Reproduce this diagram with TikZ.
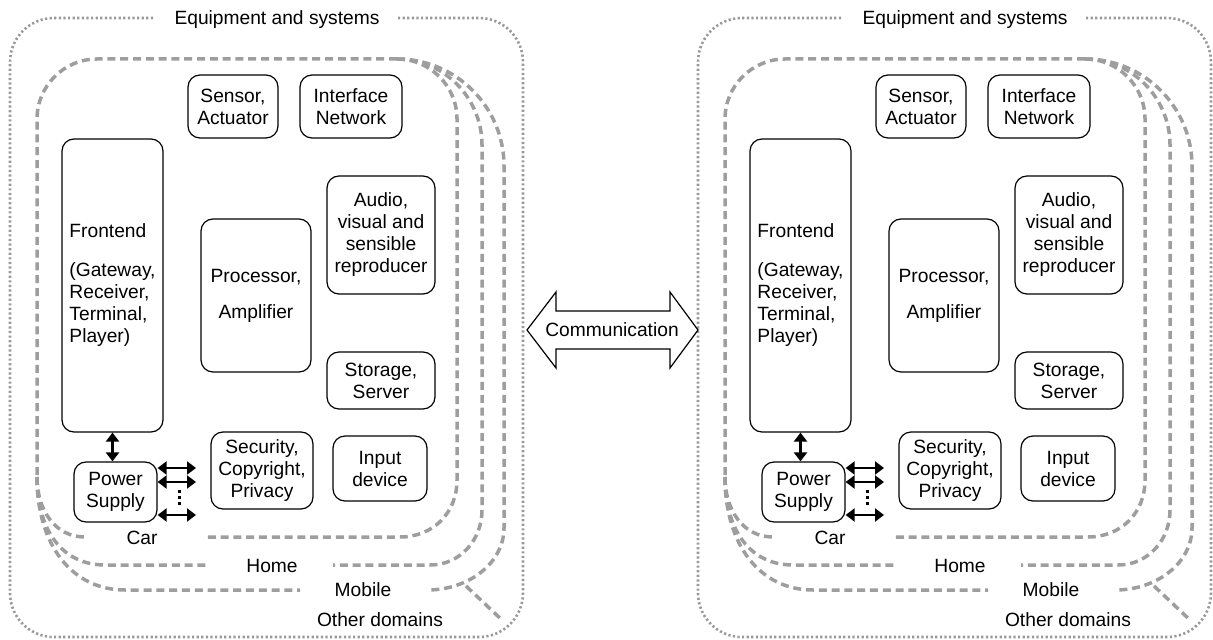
\documentclass[tikz,border=0pt]{standalone}
\usepackage{fontspec}
\setmainfont{Liberation Sans}
\usetikzlibrary{arrows.meta,calc}

\tikzset{
  lbl/.style={font=\fontsize{9.6}{11}\selectfont, inner sep=0pt},
  unit/.style={draw=black, line width=0.6pt, rounded corners=6pt, align=center,
    inner sep=0pt, font=\fontsize{9.6}{11}\selectfont},
  zoneline/.style={draw=black!38, line width=1.75pt, dash pattern=on 4pt off 2.4pt},
  envelope/.style={draw=black!40, line width=1.3pt, dash pattern=on 1.1pt off 1.2pt},
  link/.style={line width=1.3pt,
    {Triangle[length=4.5pt,width=6.5pt]}-{Triangle[length=4.5pt,width=6.5pt]}},
}

% One equipment panel; #1 prefixes the node names
\newcommand\equipmentpanel[1]{%
  % equipment and systems envelope
  \draw[envelope, rounded corners=22pt]
    (153,18) -- (10,18) -- (10,637) -- (523,637) -- (523,18) -- (398,18);
  \node[lbl] (#1eq) at (277,20) {Equipment and systems};
  % shared left and top edge of the car / home / mobile zones
  \draw[zoneline] (397,59) -- (97,59) .. controls (64,59) and (37,86) .. (37,119) -- (37,477);
  % car
  \draw[zoneline] (37,477) .. controls (37,510) and (55,537) .. (85,537);
  \draw[zoneline] (397,59) .. controls (430,59) and (457,86) .. (457,119) -- (457,480)
    .. controls (457,513) and (433,537) .. (400,537) -- (205,537);
  % home
  \draw[zoneline] (37,477) .. controls (37,530) and (62,565) .. (105,565) -- (210,565);
  \draw[zoneline] (397,59) .. controls (444,59) and (482,98) .. (482,145) -- (482,510)
    .. controls (482,540) and (460,565) .. (430,565) -- (333,565);
  % mobile
  \draw[zoneline] (37,477) .. controls (37,545) and (72,590) .. (125,590) -- (300,590);
  \draw[zoneline] (397,59) .. controls (456,59) and (504,107) .. (504,166) -- (504,528)
    .. controls (504,562) and (470,590) .. (427,590);
  % other domains corner
  \draw[zoneline] (466,586) -- (503,621);
  % zone labels
  \node[lbl] (#1car) at (142,538) {Car};
  \node[lbl] (#1home) at (272,566) {Home};
  \node[lbl] (#1mobile) at (363,590) {Mobile};
  \node[lbl] (#1other) at (380,620) {Other domains};
  % units
  \node[unit, minimum width=45pt, minimum height=31.5pt] (#1sensor) at (233,106.5) {Sensor,\\Actuator};
  \node[unit, minimum width=51pt, minimum height=31.5pt] (#1iface) at (351,106.5) {Interface\\Network};
  \node[unit, align=left, minimum width=50.5pt, minimum height=146.5pt] (#1front) at (112.5,285.5)
    {Frontend\\[8.5pt](Gateway,\\Receiver,\\Terminal,\\Player)};
  \node[unit, minimum width=55pt, minimum height=76.5pt] (#1proc) at (256,295.5) {Processor,\\[7pt]Amplifier};
  \node[unit, minimum width=54pt, minimum height=59pt] (#1audio) at (381,235)
    {Audio,\\visual and\\sensible\\reproducer};
  \node[unit, minimum width=54pt, minimum height=28.5pt] (#1storage) at (381,380.5) {Storage,\\Server};
  \node[unit, minimum width=51pt, minimum height=38.5pt] (#1security) at (262,470.5)
    {Security,\\Copyright,\\Privacy};
  \node[unit, minimum width=47pt, minimum height=32.5pt] (#1input) at (380,468.5) {Input\\device};
  \node[unit, minimum width=41.5pt, minimum height=30pt] (#1power) at (115.5,492) {Power\\Supply};
  % power links
  \draw[link] (#1front.south) -- (#1front.south |- #1power.north);
  \coordinate (#1a1) at (196,468);
  \coordinate (#1a2) at (196,482);
  \coordinate (#1a3) at (196,515);
  \draw[link] (#1power.east |- #1a1) -- (#1a1);
  \draw[link] (#1power.east |- #1a2) -- (#1a2);
  \draw[link] (#1power.east |- #1a3) -- (#1a3);
  \coordinate (#1d1) at (179,490);
  \coordinate (#1d2) at (179,508);
  \draw[line width=1.5pt, dash pattern=on 1.5pt off 1.5pt] (#1d1) -- (#1d2);
}

\begin{document}
\begin{tikzpicture}[x=0.5pt, y=-0.5pt]
  \path[use as bounding box] (0,0) rectangle (1213,640);
  \equipmentpanel{L}
  \begin{scope}[shift={(688,0)}]
    \equipmentpanel{R}
  \end{scope}
  % communication between the two panels
  \draw[line width=0.6pt, fill=white]
    (527,330) -- (556,292) -- (556,311) -- (670,311) -- (670,292) -- (698,330)
    -- (670,368) -- (670,349) -- (556,349) -- (556,368) -- cycle;
  \node[lbl] (comm) at (612,330) {Communication};
\end{tikzpicture}
\end{document}
